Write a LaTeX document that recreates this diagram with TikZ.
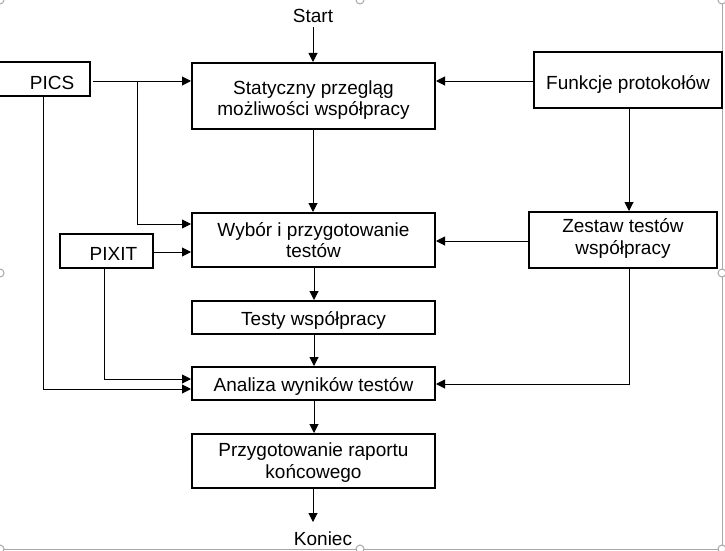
\documentclass[tikz,border=0pt]{standalone}
\usepackage{fontspec}
\setmainfont{Liberation Sans}
\usetikzlibrary{arrows.meta}
\definecolor{framegray}{HTML}{A8A8A8}
\tikzset{
  x=1pt, y=-1pt,
  every node/.style={font=\fontsize{19}{21.5}\selectfont, inner sep=0pt, align=center},
  box/.style={draw, line width=2pt, fill=white},
  conn/.style={line width=1pt, -{Triangle[length=9pt,width=9pt]}},
  handle/.style={draw=framegray, fill=white, line width=1pt, circle, minimum size=8pt}
}
\begin{document}
\begin{tikzpicture}
\useasboundingbox (0,0) rectangle (725,551);
% frame of the selection
\draw[framegray, line width=1pt] (722,0) -- (722,549) -- (0,549);
\node[handle] (h1) at (722,0) {};
\node[handle] (h2) at (722,273) {};
\node[handle] (h3) at (722,549) {};
\node[handle] (h4) at (360,549) {};
\node[handle] (h5) at (0,549) {};
\node[handle] (h6) at (0,273) {};
\node[handle] (h7) at (360,0) {};
\node[handle] (h8) at (0,0) {};

% main column
\node (start) at (313,16) {Start};
\node[box, minimum width=243pt, minimum height=66pt, text height=39.4pt, text depth=0pt] (stat) at (313.5,96) {Statyczny przegląg\\możliwości współpracy};
\node[box, minimum width=243pt, minimum height=54pt, text height=35.4pt, text depth=0pt] (wyb) at (313.5,240) {Wybór i przygotowanie\\testów};
\node[box, minimum width=243pt, minimum height=33pt, text height=15pt, text depth=0pt] (testy) at (313.5,317.5) {Testy współpracy};
\node[box, minimum width=243pt, minimum height=33pt, text height=16.4pt, text depth=0pt] (anal) at (313.5,383.5) {Analiza wyników testów};
\node[box, minimum width=243pt, minimum height=54pt, text height=34.6pt, text depth=0pt] (przyg) at (313.5,461) {Przygotowanie raportu\\końcowego};
\node (koniec) at (323,538.5) {Koniec};
\coordinate (kon) at (313,522);

% left side
\node[box, minimum width=110pt, minimum height=34pt, text height=20pt, text depth=0pt] (pics) at (35,79) {\hspace*{34pt}PICS};
\node[box, minimum width=93pt, minimum height=34pt, text height=19.4pt, text depth=0pt] (pixit) at (106.5,251) {\hspace*{14pt}PIXIT};

% right side
\node[box, minimum width=188pt, minimum height=56pt, text height=18pt, text depth=0pt] (funk) at (628,80) {Funkcje protokołów};
\node[box, minimum width=188pt, minimum height=56pt, text height=28.6pt, text depth=0pt] (zest) at (623,240) {Zestaw testów\\współpracy};

% main flow
\draw[conn] (313,27) -- (stat.north -| 313,0);
\draw[conn] (stat.south -| 313,0) -- (wyb.north -| 313,0);
\draw[conn] (wyb.south -| 314,0) -- (testy.north -| 314,0);
\draw[conn] (testy.south -| 314,0) -- (anal.north -| 314,0);
\draw[conn] (anal.south -| 314,0) -- (przyg.north -| 314,0);
\draw[conn] (przyg.south -| 313,0) -- (kon);

% PICS
\draw[conn] (93,81) -- (stat.west |- 0,81);
\draw[conn] (137,81) -- (137,224) -- (wyb.west |- 0,224);
\draw[conn] (pics.south -| 43,0) -- (43,389) -- (anal.west |- 0,389);

% PIXIT
\draw[conn] (pixit.east |- 0,252) -- (wyb.west |- 0,252);
\draw[conn] (pixit.south -| 104,0) -- (104,379) -- (anal.west |- 0,379);

% right side
\draw[conn] (funk.west |- 0,81) -- (stat.east |- 0,81);
\draw[conn] (funk.south -| 629,0) -- (zest.north -| 629,0);
\draw[conn] (zest.west |- 0,241) -- (wyb.east |- 0,241);
\draw[conn] (zest.south -| 629,0) -- (629,384) -- (anal.east |- 0,384);
\end{tikzpicture}
\end{document}
